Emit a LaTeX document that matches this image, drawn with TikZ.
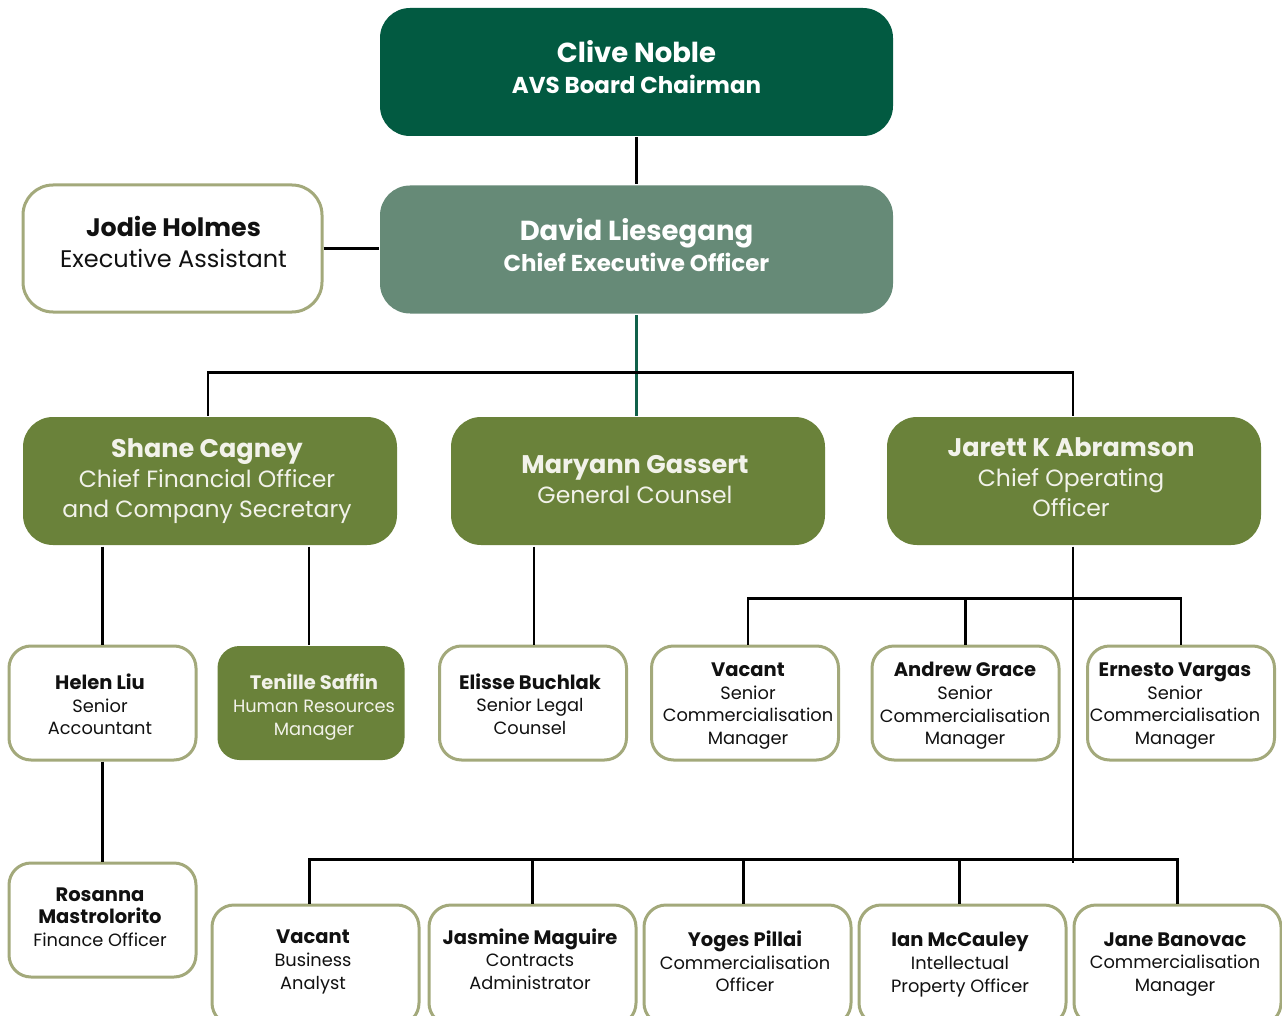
\documentclass[tikz,border=0pt]{standalone}
\usepackage{fontspec}
\setmainfont{Poppins}
\definecolor{cDark}{HTML}{025A41}
\definecolor{cSage}{HTML}{668A77}
\definecolor{cOlive}{HTML}{6A823A}
\definecolor{cBorder}{HTML}{A3A97B}
\definecolor{cTeal}{HTML}{10614A}
\definecolor{cInk}{HTML}{111111}
\definecolor{cPale}{HTML}{F2F2EA}
\tikzset{
  card/.style={rounded corners=22pt, inner sep=0pt, line width=3pt},
  bigcard/.style={card, rounded corners=30pt, minimum width=513pt, minimum height=128pt},
  midcard/.style={card, rounded corners=30pt, minimum width=374pt, minimum height=128pt, fill=cOlive},
  smallcard/.style={card, minimum width=187pt, minimum height=114pt},
  botcard/.style={card, minimum width=207pt, minimum height=120pt},
  plain/.style={draw=cBorder, fill=white},
  olivefill/.style={fill=cOlive},
  toptxt/.style={align=center, inner sep=0pt, text=white, font=\fontsize{23}{30.5}\selectfont\bfseries},
  midtxt/.style={align=center, inner sep=0pt, text=cPale, font=\fontsize{23.5}{30}\selectfont},
  smtxt/.style={align=center, inner sep=0pt, text=cInk, font=\fontsize{17.8}{22.6}\selectfont},
  conn/.style={line width=2.5pt, draw=black},
}
\newcommand{\topnm}[1]{{\fontsize{27.5}{30.5}\selectfont #1}}
\newcommand{\midnm}[1]{{\fontsize{25.5}{30}\selectfont\bfseries #1}}
\newcommand{\smnm}[1]{{\fontsize{19.5}{22.6}\selectfont\bfseries #1}}
\begin{document}
\begin{tikzpicture}[x=1pt,y=-1pt]
\useasboundingbox (0,0) rectangle (1282,1016);
\clip (0,0) rectangle (1282,1016);
\fill[white] (0,0) rectangle (1282,1016);

% boxes
\node[bigcard, fill=cDark] (clive) at (636.5,72) {};
\node[bigcard, fill=cSage] (david) at (636.5,249.5) {};
\node[card, plain, rounded corners=30pt, minimum width=299pt, minimum height=127pt] (jodie) at (172.5,248.5) {};
\node[midcard] (shane) at (210,481) {};
\node[midcard] (maryann) at (638,481) {};
\node[midcard] (jarett) at (1074,481) {};
\node[smallcard, plain] (helen) at (102.5,703) {};
\node[smallcard, olivefill] (tenille) at (311,703) {};
\node[smallcard, plain] (elisse) at (533,703) {};
\node[smallcard, plain] (vacantscm) at (745,703) {};
\node[smallcard, plain] (andrew) at (965.5,703) {};
\node[smallcard, plain] (ernesto) at (1181,703) {};
\node[smallcard, plain] (rosanna) at (102.5,920) {};
\node[botcard, plain] (vacantba) at (315.5,965) {};
\node[botcard, plain] (jasmine) at (532.5,965) {};
\node[botcard, plain] (yoges) at (747.5,965) {};
\node[botcard, plain] (ian) at (962.5,965) {};
\node[botcard, plain] (jane) at (1177.5,965) {};

% texts
\node[toptxt] (cliveT) at (636.5,67) {\topnm{Clive Noble}\\AVS Board Chairman};
\node[toptxt] (davidT) at (636.5,245) {\topnm{David Liesegang}\\Chief Executive Officer};
\node[smtxt, font=\fontsize{24}{31}\selectfont] (jodieT) at (173.5,241.5) {{\fontsize{25.3}{31}\selectfont\bfseries Jodie Holmes}\\Executive Assistant};
\node[midtxt] (shaneT) at (207,481) {\midnm{Shane Cagney}\\Chief Financial Officer\\and Company Secretary};
\node[midtxt] (maryannT) at (635,479.5) {\midnm{Maryann Gassert}\\General Counsel};
\node[midtxt] (jarettT) at (1071,477.5) {\midnm{Jarett K Abramson}\\Chief Operating\\Officer};

\node[smtxt] (helenT) at (100,704.5) {\smnm{Helen Liu}\\Senior\\Accountant};
\node[smtxt, text=cPale] (tenilleT) at (314,707) {\smnm{Tenille Saffin}\\Human Resources\\Manager};
\node[smtxt] (elisseT) at (530,704) {\smnm{Elisse Buchlak}\\Senior Legal\\Counsel};
\node[smtxt] (vacantscmT) at (748,706) {\smnm{Vacant}\\Senior\\Commercialisation\\Manager};
\node[smtxt] (andrewT) at (965,706) {\smnm{Andrew Grace}\\Senior\\Commercialisation\\Manager};
\node[smtxt] (ernestoT) at (1175,706) {\smnm{Ernesto Vargas}\\Senior\\Commercialisation\\Manager};
\node[smtxt] (rosannaT) at (100,917) {\smnm{Rosanna}\\\smnm{Mastrolorito}\\Finance Officer};
\node[smtxt] (vacantbaT) at (313,962) {\smnm{Vacant}\\Business\\Analyst};
\node[smtxt] (jasmineT) at (530,959) {\smnm{Jasmine Maguire}\\Contracts\\Administrator};
\node[smtxt] (yogesT) at (745,961.5) {\smnm{Yoges Pillai}\\Commercialisation\\Officer};
\node[smtxt] (ianT) at (960,964.5) {\smnm{Ian McCauley}\\Intellectual\\Property Officer};
\node[smtxt] (janeT) at (1175,964.5) {\smnm{Jane Banovac}\\Commercialisation\\Manager};

% connectors
\draw[conn] (clive.south) -- (david.north);
\draw[conn] (jodie.east) -- (jodie.east -| david.west);
\draw[conn, draw=cTeal] (david.south) -- (david.south |- maryann.north);
\draw[conn] ([xshift=-2pt]shane.north) -- ++(0,-43) -| ([xshift=-1pt]jarett.north);
\draw[conn] (helen.north |- shane.south) -- (helen.north);
\draw[conn] ([xshift=-2pt]tenille.north |- shane.south) -- ([xshift=-2pt]tenille.north);
\draw[conn] ([xshift=1pt]elisse.north |- maryann.south) -- ([xshift=1pt]elisse.north);
\draw[conn] (helen.south) -- (rosanna.north);
\coordinate (cooBus) at ([xshift=-1pt]jarett.south);
\draw[conn] (cooBus) -- ++(0,316);
\draw[conn] ([xshift=3pt]vacantscm.north) -- ++(0,-46) -| (ernesto.north);
\draw[conn] (andrew.north) -- ++(0,-46);
\draw[conn] ([xshift=-6pt]vacantba.north) -- ++(0,-44) -| (jane.north);
\draw[conn] (jasmine.north) -- ++(0,-44);
\draw[conn] ([xshift=-4pt]yoges.north) -- ++(0,-44);
\draw[conn] ([xshift=-3pt]ian.north) -- ++(0,-44);
\end{tikzpicture}
\end{document}
